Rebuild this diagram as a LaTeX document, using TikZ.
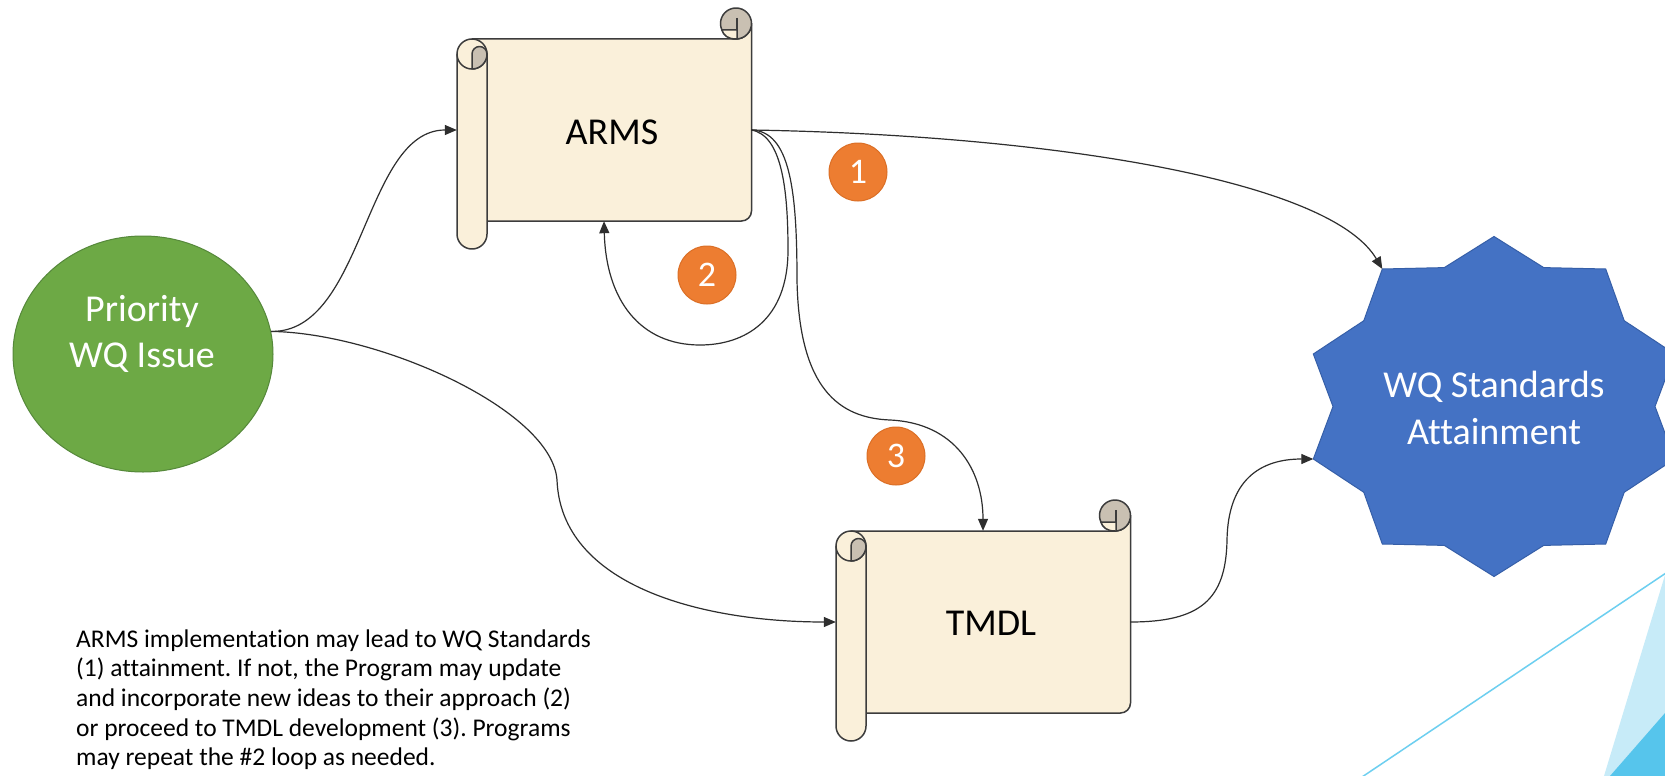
\documentclass[tikz,border=0pt]{standalone}
\usepackage{fontspec}
\setmainfont{Carlito}[Ligatures={NoCommon}]
\frenchspacing
\usetikzlibrary{arrows.meta,shapes.geometric}
\definecolor{parch}{HTML}{FAF0DA}
\definecolor{curlgrey}{HTML}{C9C0B2}
\definecolor{scrollink}{HTML}{3C3C3C}
\definecolor{prigreen}{HTML}{6DA945}
\definecolor{prigreenline}{HTML}{55883A}
\definecolor{starblue}{HTML}{4472C4}
\definecolor{starblueline}{HTML}{365FA8}
\definecolor{numorange}{HTML}{ED7D31}
\definecolor{numorangeline}{HTML}{DB6F26}
\definecolor{decoline}{HTML}{6DCFF0}
\definecolor{decolight}{HTML}{C7EBF8}
\definecolor{decodark}{HTML}{56C5EC}
\definecolor{connink}{HTML}{2E2E2E}
\newcommand{\drawscrollat}[2]{%
\begin{scope}[shift={(#1,#2)}]
 \filldraw[scrollline, fill=parch] (15,31) -- (279,31) .. controls (287.6,31) and (294.5,24.1) .. (294.5,15.5) -- (294.5,203) .. controls (294.5,208.5) and (290,213) .. (284.5,213) -- (30,213) -- (30,46) -- cycle;
 \filldraw[scrollline, fill=parch] (0,46) -- (0,226) .. controls (0,234.3) and (6.7,241) .. (15,241) .. controls (23.3,241) and (30,234.3) .. (30,226) -- (30,46) -- cycle;
 \filldraw[scrollline, fill=parch] (15,46) circle[radius=15];
 \filldraw[scrollline, fill=curlgrey] (15,61) -- (15,46) .. controls (15,41.9) and (18.4,38.5) .. (22.5,38.5) .. controls (26.6,38.5) and (30,41.9) .. (30,46) .. controls (30,54.3) and (23.3,61) .. (15,61) -- cycle;
 \filldraw[scrollline, fill=curlgrey] (279,15.5) circle[radius=15.5];
 \filldraw[scrollline, fill=parch] (264.9,22) -- (280,22) -- (280,31) -- (279,31) .. controls (271,31) and (266.5,27.5) .. (264.9,22) -- cycle;
 \draw[scrollline] (280,10) -- (280,22);
\end{scope}}
\begin{document}
\begin{tikzpicture}[x=1pt,y=-1pt,
  scrollline/.style={draw=scrollink, line width=1.5pt, line join=round},
  bodybox/.style={rectangle, draw=none, minimum width=294pt, minimum height=182pt, inner sep=0pt},
  scrolltext/.style={font=\fontsize{38}{46}\selectfont, text=black, inner sep=0pt},
  pri/.style={ellipse, fill=prigreen, draw=prigreenline, line width=1pt, minimum width=260pt, minimum height=236pt, inner sep=0pt},
  whitetext/.style={align=center, text=white, inner sep=0pt},
  starshape/.style={fill=starblue, draw=starblueline, line width=1pt},
  num/.style={circle, fill=numorange, draw=numorangeline, line width=1pt, minimum size=58pt, inner sep=0pt, text=white, font=\fontsize{36}{40}\selectfont},
  conn/.style={draw=connink, line width=1.2pt, -{Triangle[length=12pt,width=10pt]}},
  note/.style={anchor=base west, inner sep=0pt, text=black, font=\fontsize{25.5}{29.7}\selectfont}
]
\useasboundingbox (0,0) rectangle (1665,776);
\fill[white] (0,0) rectangle (1665,776);

% slide decoration
\fill[decolight] (1604,776) -- (1665,575) -- (1665,776) -- cycle;
\fill[decodark] (1610,776) -- (1665,713) -- (1665,776) -- cycle;
\draw[decoline, line width=1.5pt] (1362,777) -- (1666,573);

% star
\filldraw[starshape] (1494,236.5) -- (1444.3,267.6) -- (1382.3,269.0) -- (1363.8,320.7) -- (1313.3,354.0) -- (1333,406.5) -- (1313.3,459.0) -- (1363.8,492.3) -- (1382.3,544.0) -- (1444.3,545.4) -- (1494,576.5) -- (1543.7,545.4) -- (1605.7,544.0) -- (1624.2,492.3) -- (1674.7,459.0) -- (1655,406.5) -- (1674.7,354.0) -- (1624.2,320.7) -- (1605.7,269.0) -- (1543.7,267.6) -- cycle;
\node[whitetext, font=\fontsize{38}{47}\selectfont] (wq) at (1494,408) {WQ Standards\\Attainment};
\coordinate (wqA) at (1382.3,269.0);
\coordinate (wqB) at (1313.3,459.0);

% scrolls
\drawscrollat{457}{8}
\drawscrollat{836}{500}
\node[bodybox] (arms) at (604,130) {};
\node[bodybox] (tmdl) at (983,622) {};
\node[scrolltext] (armslabel) at (612,132) {ARMS};
\node[scrolltext] (tmdllabel) at (991,623) {TMDL};

% priority
\node[pri] (pri) at (143,354) {};
\node[whitetext, font=\fontsize{38}{46}\selectfont] (prilabel) at (142,334) {Priority\\WQ Issue};
\coordinate (priout) at (pri.10);

% connectors
\draw[conn] (priout) .. controls (364,333) and (364,130) .. (arms.west);
\draw[conn] (priout) .. controls (380,333) and (552,410) .. (557,480) .. controls (561,585) and (700,622) .. (tmdl.west);
\draw[conn] (arms.east) .. controls (1050,135) and (1330,180) .. (wqA);
\draw[conn] (arms.east) .. controls (790,131) and (797,190) .. (797,280) .. controls (799,390) and (840,418) .. (890,420) .. controls (955,423) and (983,470) .. (tmdl.north);
\draw[conn] (arms.east) .. controls (782,135) and (788,190) .. (788,250) .. controls (788,320) and (745,345) .. (700,345) .. controls (640,345) and (606,300) .. (arms.south);
\draw[conn] (tmdl.east) .. controls (1200,622) and (1226,600) .. (1227,540) .. controls (1228,480) and (1260,459) .. (wqB);

% numbers
\node[num] (n1) at (858,172) {1};
\node[num] (n2) at (707,275) {2};
\node[num] (n3) at (896,456) {3};

% note
\node[note] (notetext) at (76,647) {\begin{tabular}[t]{@{}l@{}}ARMS implementation may lead to WQ Standards\\(1) attainment. If not, the Program may update\\and incorporate new ideas to their approach (2)\\or proceed to TMDL development (3). Programs\\may repeat the \#2 loop as needed.\end{tabular}};
\end{tikzpicture}
\end{document}
